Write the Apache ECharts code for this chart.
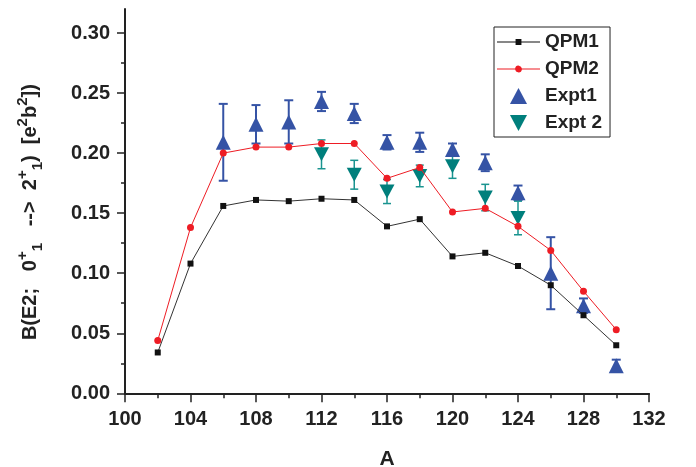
<!DOCTYPE html>
<html><head><meta charset="utf-8">
<script src="https://cdn.jsdelivr.net/npm/echarts@6/dist/echarts.min.js"></script>
<style>html,body{margin:0;padding:0;background:#fff}#c{width:696px;height:467px}</style>
</head><body><div id="c"></div>
<script>
// ---- data ----
const massNumbers = [102, 104, 106, 108, 110, 112, 114, 116, 118, 120, 122, 124, 126, 128, 130];
const qpm1 = [0.034, 0.108, 0.156, 0.161, 0.160, 0.162, 0.161, 0.139, 0.145, 0.114, 0.117, 0.106, 0.090, 0.065, 0.040];
const qpm2 = [0.044, 0.138, 0.200, 0.205, 0.205, 0.208, 0.208, 0.179, 0.188, 0.151, 0.154, 0.139, 0.119, 0.085, 0.053];

const expt1A = [106, 108, 110, 112, 114, 116, 118, 120, 122, 124, 126, 128, 130];
const expt1 = [0.209, 0.224, 0.226, 0.243, 0.233, 0.209, 0.209, 0.203, 0.192, 0.167, 0.100, 0.073, 0.023];
const expt1Err = [0.032, 0.016, 0.018, 0.008, 0.008, 0.006, 0.008, 0.005, 0.007, 0.006, 0.030, 0.006, 0.005];

const expt2A = [112, 114, 116, 118, 120, 122, 124];
const expt2 = [0.199, 0.182, 0.168, 0.181, 0.189, 0.163, 0.146];
const expt2Err = [0.012, 0.012, 0.010, 0.009, 0.010, 0.011, 0.014];

const yMajorTicks = [0, 0.05, 0.10, 0.15, 0.20, 0.25, 0.30];
const yMinorTicks = [0.025, 0.075, 0.125, 0.175, 0.225, 0.275];
const seriesNames = ['QPM1', 'QPM2', 'Expt1', 'Expt 2'];

// ---- build ----
const FONT = "'Liberation Sans', Arial, sans-serif";
const BLUE = '#3553a5', TEAL = '#007f7c', RED = '#ee1c24';
const pairs = (xs, ys) => xs.map((x, i) => [x, ys[i]]);
const errData = (xs, ys, es) => xs.map((x, i) => [x, ys[i] - es[i], ys[i] + es[i]]);

function errRender(color, lw, hw) {
  return function (params, api) {
    const x = api.value(0);
    const p1 = api.coord([x, api.value(1)]);
    const p2 = api.coord([x, api.value(2)]);
    const st = { stroke: color, lineWidth: lw };
    return { type: 'group', children: [
      { type: 'line', shape: { x1: p1[0], y1: p1[1], x2: p2[0], y2: p2[1] }, style: st },
      { type: 'line', shape: { x1: p1[0] - hw, y1: p1[1], x2: p1[0] + hw, y2: p1[1] }, style: st },
      { type: 'line', shape: { x1: p2[0] - hw, y1: p2[1], x2: p2[0] + hw, y2: p2[1] }, style: st }
    ]};
  };
}

const chart = echarts.init(document.getElementById('c'), null, { renderer: 'canvas' });
const axisText = { color: '#222', fontSize: 20, fontWeight: 'bold', fontFamily: FONT };
const yName = '{n|B(E2;   0}{sp|+}{sb|1}{n|   -->  2}{sp|+}{sb|1}{n|)  [e}{sp|2}{n|b}{sp|2}{n|])}';

chart.setOption({
  animation: false,
  backgroundColor: '#fff',
  grid: { left: 125, right: 47, top: 9, bottom: 73.7, outerBoundsMode: 'none', containLabel: false },
  legend: {
    orient: 'vertical', left: 494, top: 27,
    data: [
      { name: seriesNames[0], icon: 'path://M0,2.5 L19,2.5 L19,0 L25,0 L25,2.5 L44,2.5 L44,3.5 L25,3.5 L25,6 L19,6 L19,3.5 L0,3.5 Z' },
      { name: seriesNames[1], icon: 'path://M0,3.5 L18.54,3.5 A3.5,3.5 0 0 1 25.46,3.5 L44,3.5 L44,4.5 L25.46,4.5 A3.5,3.5 0 0 1 18.54,4.5 L0,4.5 Z' },
      { name: seriesNames[2], icon: 'path://M8,0 L16,15 L0,15 Z' },
      { name: seriesNames[3], icon: 'path://M0,0 L16,0 L8,15 Z' }
    ],
    itemWidth: 43, itemHeight: 16, itemGap: 7,
    padding: [5, 8, 4, 3],
    borderColor: '#222', borderWidth: 1,
    textStyle: { color: '#222', fontSize: 19, fontWeight: 'bold', fontFamily: FONT, lineHeight: 20 },
    selectedMode: false
  },
  xAxis: {
    type: 'value', min: 100, max: 132, interval: 4,
    name: 'A', nameLocation: 'middle', nameGap: 55, nameMoveOverlap: false,
    nameTextStyle: { color: '#222', fontSize: 21, fontWeight: 'bold', fontFamily: FONT },
    axisLine: { show: true, onZero: false, lineStyle: { color: '#222', width: 2 } },
    axisTick: { show: true, inside: false, length: 9, lineStyle: { color: '#222', width: 1.5 } },
    minorTick: { show: true, splitNumber: 2, length: 5, lineStyle: { color: '#222', width: 1.5 } },
    axisLabel: Object.assign({ margin: 16 }, axisText),
    splitLine: { show: false }, minorSplitLine: { show: false }
  },
  yAxis: [{
    type: 'value', min: 0, max: 0.32, position: 'left',
    name: yName, nameLocation: 'middle', nameGap: 80, nameRotate: 90, nameMoveOverlap: false,
    nameTextStyle: {
      color: '#222', fontFamily: FONT, fontWeight: 'bold', padding: [0, 22, 0, 0],
      rich: {
        n: { fontSize: 20, fontWeight: 'bold', fontFamily: FONT, color: '#222', lineHeight: 30 },
        sp: { fontSize: 15, fontWeight: 'bold', fontFamily: FONT, color: '#222', lineHeight: 14, verticalAlign: 'top' },
        sb: { fontSize: 15, fontWeight: 'bold', fontFamily: FONT, color: '#222', lineHeight: 14, verticalAlign: 'bottom' }
      }
    },
    axisLine: { show: true, onZero: false, lineStyle: { color: '#222', width: 2 } },
    axisTick: { show: true, inside: false, length: 8, customValues: yMajorTicks, lineStyle: { color: '#222', width: 1.5 } },
    axisLabel: Object.assign({ margin: 15, customValues: yMajorTicks, formatter: v => v.toFixed(2) }, axisText),
    splitLine: { show: false }
  }, {
    type: 'value', min: 0, max: 0.32, position: 'left', offset: 0,
    axisLine: { show: false },
    axisTick: { show: true, inside: false, length: 4, customValues: yMinorTicks, lineStyle: { color: '#222', width: 1.5 } },
    axisLabel: { show: false },
    splitLine: { show: false }
  }],
  series: [
    {
      name: 'Expt1 err', type: 'custom', z: 1, silent: true,
      data: errData(expt1A, expt1, expt1Err),
      encode: { x: 0, y: [1, 2] },
      renderItem: errRender(BLUE, 2, 4.5)
    },
    {
      name: 'Expt2 err', type: 'custom', z: 1, silent: true,
      data: errData(expt2A, expt2, expt2Err),
      encode: { x: 0, y: [1, 2] },
      renderItem: errRender('#1a9490', 1.5, 4)
    },
    {
      name: seriesNames[2], type: 'scatter', z: 3,
      data: pairs(expt1A, expt1),
      symbol: 'triangle', symbolSize: 15,
      itemStyle: { color: BLUE, opacity: 1 }
    },
    {
      name: seriesNames[3], type: 'scatter', z: 3,
      data: pairs(expt2A, expt2),
      symbol: 'triangle', symbolSize: [15, 14], symbolRotate: 180,
      itemStyle: { color: TEAL, opacity: 1 }
    },
    {
      name: seriesNames[0], type: 'line', z: 4,
      data: pairs(massNumbers, qpm1),
      symbol: 'rect', symbolSize: 6, showSymbol: true,
      lineStyle: { color: '#333', width: 1 },
      itemStyle: { color: '#111', borderWidth: 0 }
    },
    {
      name: seriesNames[1], type: 'line', z: 5,
      data: pairs(massNumbers, qpm2),
      symbol: 'circle', symbolSize: 7, showSymbol: true,
      lineStyle: { color: RED, width: 1 },
      itemStyle: { color: RED, borderWidth: 0 }
    }
  ]
});
</script></body></html>
